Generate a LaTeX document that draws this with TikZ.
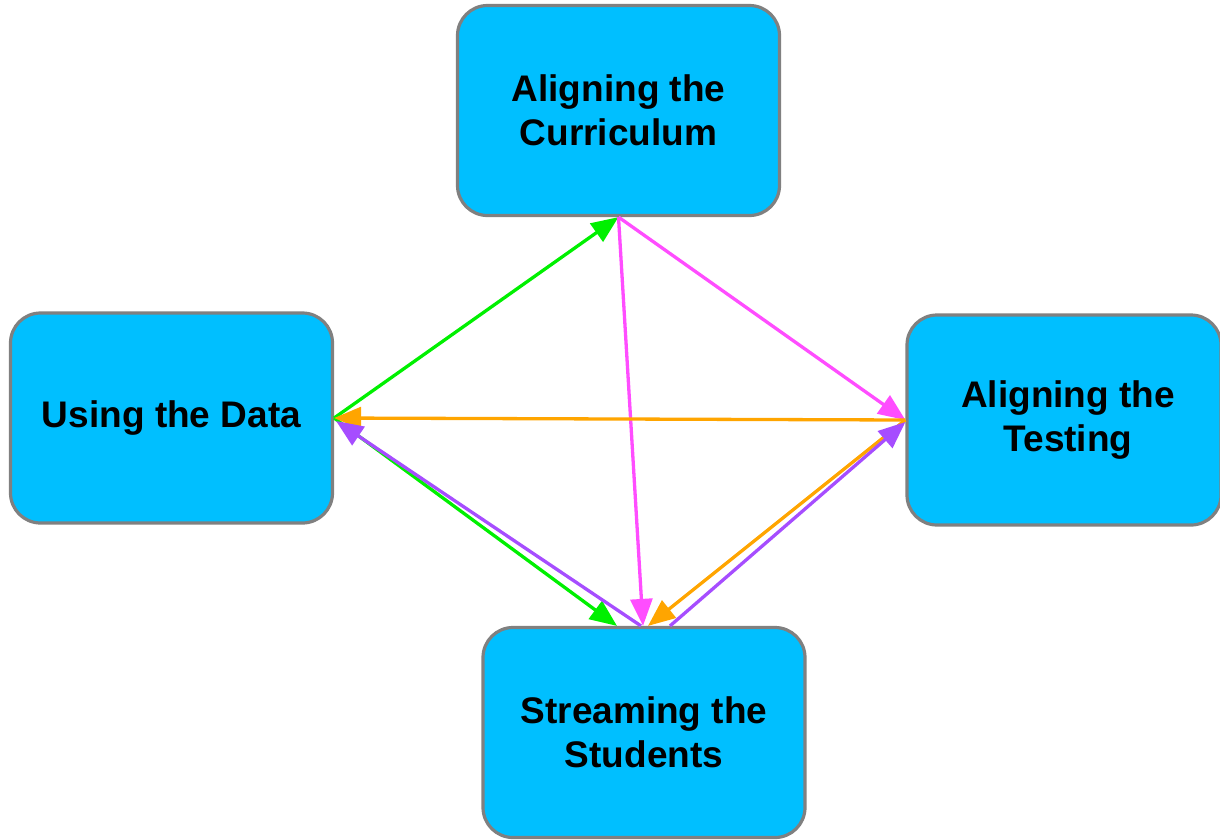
\documentclass[tikz,border=0pt]{standalone}
\usepackage{fontspec}
\setmainfont{Liberation Sans}
\usetikzlibrary{arrows.meta,calc}
\definecolor{boxfill}{RGB}{0,191,255}
\definecolor{boxline}{RGB}{128,128,128}
\definecolor{lnGreen}{RGB}{0,240,0}
\definecolor{lnMagenta}{RGB}{255,77,255}
\definecolor{lnOrange}{RGB}{255,165,0}
\definecolor{lnPurple}{RGB}{166,77,255}
\tikzset{
  stage/.style={draw=boxline, line width=3.2pt, fill=boxfill, rounded corners=30pt,
    minimum width=322pt, minimum height=210pt, inner sep=0pt, align=center,
    font=\fontsize{37pt}{44pt}\selectfont\bfseries},
  link/.style={line width=3.3pt, -{Triangle[length=27pt,width=22pt]}},
}
\begin{document}
\begin{tikzpicture}[x=1pt,y=-1pt]
\useasboundingbox (0,0) rectangle (1220,839);
\begin{scope}
\clip (0,0) rectangle (1220,839);
% the four stages
\node[stage] (cur)  at (618.5,110.5) {Aligning the\\Curriculum};
\node[stage] (data) at (171.5,418)   {Using the Data};
\node[stage, minimum width=314pt] (test) at (1064,420) {\hspace*{8pt}Aligning the\\\hspace*{8pt}Testing};
\node[stage] (str)  at (644,732.5)   {Streaming the\\Students};
\end{scope}
% connectors between the stages
\draw[link, lnGreen]   (data.east) -- (cur.south);
\draw[link, lnGreen]   (data.east) -- ($(str.north)+(-27,0)$);
\draw[link, lnMagenta] (cur.south) -- (test.west);
\draw[link, lnMagenta] (cur.south) -- ($(str.north)+(-1,0)$);
\draw[link, lnOrange]  (test.west) -- (data.east);
\draw[link, lnOrange]  (test.west) -- ($(str.north)+(4,0)$);
\draw[link, lnPurple]  ($(str.north)+(-3,0)$) -- ($(data.east)+(2,3)$);
\draw[link, lnPurple]  ($(str.north)+(26,0)$) -- ($(test.west)+(0,2)$);
\end{tikzpicture}
\end{document}
